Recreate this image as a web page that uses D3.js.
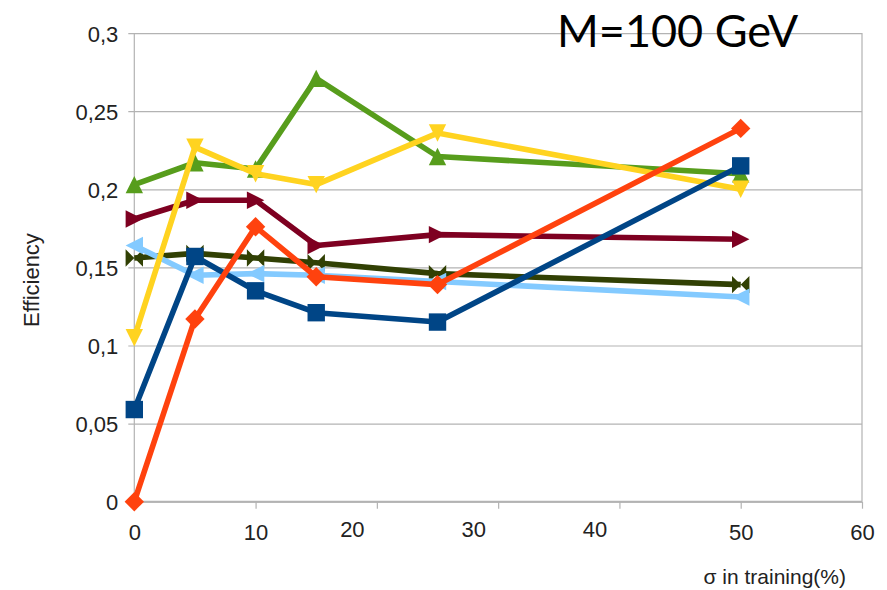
<!DOCTYPE html>
<html>
<head>
<meta charset="utf-8">
<script src="https://cdn.jsdelivr.net/npm/d3@7"></script>
<style>
  html, body { margin: 0; padding: 0; background: #fff; }
  svg { display: block; }
</style>
</head>
<body>
<svg id="chart" width="887" height="590"></svg>
<script>
// ---- data ----
const sigmaTraining = [0, 5, 10, 15, 25, 50];
const seriesSquare   = [0.059, 0.157, 0.135, 0.121, 0.115, 0.215];
const seriesDiamond  = [0.000, 0.117, 0.176, 0.144, 0.139, 0.239];
const seriesDown     = [0.105, 0.227, 0.210, 0.203, 0.236, 0.200];
const seriesUp       = [0.203, 0.217, 0.213, 0.271, 0.221, 0.210];
const seriesRight    = [0.181, 0.193, 0.193, 0.164, 0.171, 0.168];
const seriesLeft     = [0.164, 0.145, 0.146, 0.145, 0.141, 0.131];
const seriesBowtie   = [0.156, 0.159, 0.156, 0.153, 0.146, 0.139];
const xTicks = [0, 10, 20, 30, 40, 50, 60];
const yTicks = [0, 0.05, 0.1, 0.15, 0.2, 0.25, 0.3];
const titleText = "M=100 GeV";
const xTitle = "σ in training(%)";
const yTitle = "Efficiency";

// ---- series styling (drawing order: later on top) ----
const series = [
  { values: seriesBowtie,  color: "#314004", shape: "bowtie" },
  { values: seriesLeft,    color: "#83caff", shape: "left" },
  { values: seriesRight,   color: "#7e0021", shape: "right" },
  { values: seriesUp,      color: "#579d1c", shape: "up" },
  { values: seriesDown,    color: "#ffd320", shape: "down" },
  { values: seriesSquare,  color: "#004586", shape: "square" },
  { values: seriesDiamond, color: "#ff420e", shape: "diamond" }
];

const svg = d3.select("#chart");
const pLeft = 134.3, pRight = 862, pTop = 33.1, pBottom = 501.7;
const x = d3.scaleLinear().domain([0, 60]).range([pLeft, pRight]);
const y = d3.scaleLinear().domain([0, 0.3]).range([pBottom, pTop]);

const gridColor = "#b3b3b3";
const textColor = "#222";
const font = "'Liberation Sans', Arial, sans-serif";

// horizontal grid lines + y labels via axis
const yAxis = d3.axisLeft(y).tickValues(yTicks)
  .tickSize(6).tickPadding(10)
  .tickFormat(d => d3.format(".2~f")(d).replace(".", ","));
const gy = svg.append("g").attr("transform", `translate(${pLeft},0)`).call(yAxis);
gy.select(".domain").remove();
gy.selectAll(".tick line").attr("stroke", gridColor).attr("stroke-width", 1.2)
  .attr("x1", -6).attr("x2", pRight - pLeft);
gy.selectAll(".tick text").attr("fill", textColor).attr("font-family", font)
  .attr("font-size", 22).attr("x", -16).attr("dy", "0.36em");

// x axis
const xAxis = d3.axisBottom(x).tickValues(xTicks).tickSize(7).tickPadding(10)
  .tickFormat(d3.format("d"));
const gx = svg.append("g").attr("transform", `translate(0,${pBottom})`).call(xAxis);
gx.select(".domain").attr("stroke", gridColor).attr("stroke-width", 2)
  .attr("d", `M${pLeft},0H${pRight}`);
gx.selectAll(".tick line").attr("stroke", gridColor).attr("stroke-width", 1.2);
gx.selectAll(".tick text").attr("fill", textColor).attr("font-family", font)
  .attr("font-size", 22).attr("dy", "0.95em")
  .attr("dx", d => (d >= 20 && d <= 40) ? -25 : 0)
  .attr("y", d => (d >= 20 && d <= 40) ? 14 : 17);

// frame lines (left axis & right border)
svg.append("line").attr("x1", pLeft).attr("x2", pLeft).attr("y1", pTop).attr("y2", pBottom)
  .attr("stroke", gridColor).attr("stroke-width", 1.2);
svg.append("line").attr("x1", pRight).attr("x2", pRight).attr("y1", pTop).attr("y2", pBottom)
  .attr("stroke", gridColor).attr("stroke-width", 1.2);

// symbol paths
const S = 8.7;
function symbolPath(shape) {
  const s = S;
  switch (shape) {
    case "square":  return `M${-s},${-s}H${s}V${s}H${-s}Z`;
    case "diamond": return `M0,${-s-1}L${s+1},0L0,${s+1}L${-s-1},0Z`;
    case "up":      return `M0,${-s}L${s},${s}L${-s},${s}Z`;
    case "down":    return `M${-s},${-s}L${s},${-s}L0,${s}Z`;
    case "right":   return `M${-s},${-s}L${s},0L${-s},${s}Z`;
    case "left":    return `M${s},${-s}L${-s},0L${s},${s}Z`;
    case "bowtie":  return `M${-s},${-s}L${s},${s}L${s},${-s}L${-s},${s}Z`;
  }
}

const line = d3.line().x((d, i) => x(sigmaTraining[i])).y(d => y(d));
series.forEach(s => {
  const g = svg.append("g");
  g.append("path").datum(s.values).attr("d", line)
    .attr("fill", "none").attr("stroke", s.color).attr("stroke-width", 5.6)
    .attr("stroke-linejoin", "round");
  g.selectAll("path.sym").data(s.values).join("path").attr("class", "sym")
    .attr("transform", (d, i) => `translate(${x(sigmaTraining[i])},${y(d)})`)
    .attr("d", symbolPath(s.shape)).attr("fill", s.color);
});

// titles
svg.append("text").attr("x", 557).attr("y", 47).attr("font-family", "Lato, sans-serif")
  .attr("font-size", 45).attr("fill", "#000").text(titleText);
svg.append("text").attr("x", 846).attr("y", 584).attr("text-anchor", "end")
  .attr("font-family", font).attr("font-size", 21).attr("fill", textColor).text(xTitle);
svg.append("text").attr("transform", "translate(39,280) rotate(-90)")
  .attr("text-anchor", "middle").attr("font-family", font).attr("font-size", 22)
  .attr("fill", textColor).text(yTitle);
</script>
</body>
</html>
